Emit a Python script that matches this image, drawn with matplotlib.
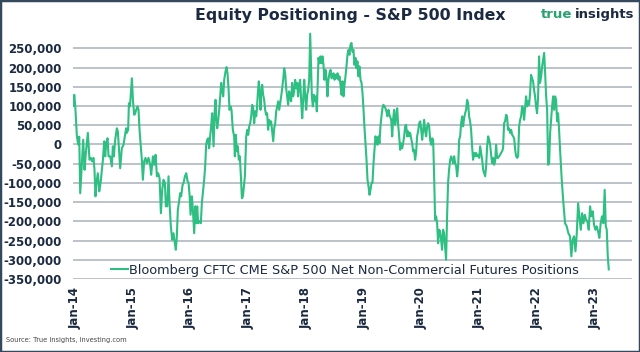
import numpy as np
import pandas as pd
import matplotlib
matplotlib.use('Agg')
import matplotlib.pyplot as plt
import matplotlib.dates as mdates
from matplotlib.ticker import FuncFormatter
from matplotlib.patches import Rectangle

# Weekly net positions (thousand contracts).
# week = weeks after 1 Jan 2014
weeks = [
    -1.3, -0.7, 0.2, 1.7, 2.9, 3.8, 4.7, 6.2, 7.4, 8.6, 9.8, 11.6, 13.1, 14.3, 15.5, 16.7,
    17.6, 18.5, 19.4, 20.6, 21.9, 23.1, 24.3, 25.2, 26.4, 27.3, 28.2, 29.4, 30.3, 31.8,
    33.3, 34.2, 35.1, 36.3, 37.8, 38.7, 40.8, 42.3, 43.8, 45.0, 46.2, 46.8, 48.0, 48.7,
    49.6, 50.5, 51.4, 52.3, 53.5, 54.4, 55.3, 56.5, 57.4, 58.3, 59.5, 60.4, 61.3, 62.5,
    63.7, 64.9, 66.4, 67.9, 68.8,
    70.4, 71.6, 72.8, 74.0, 75.2, 76.4, 77.6, 78.8, 80.0, 81.2, 82.1, 83.3, 84.5, 85.4,
    86.6, 87.8, 89.0, 90.2, 91.1, 92.0, 92.9, 93.8, 95.0, 95.9, 97.2, 98.1, 99.3, 100.5,
    101.7, 102.6, 103.5, 104.4, 105.6, 106.5, 107.7, 108.6, 109.5, 110.4, 111.3, 112.5,
    113.7, 114.6, 115.5, 116.7, 117.6, 118.5, 119.4, 120.3, 121.2, 122.1, 123.0, 123.9,
    124.6, 125.2, 126.1, 127.0, 127.6, 128.5, 129.4, 130.3, 131.2, 132.1, 133.0, 133.9,
    134.8, 136.0, 136.9, 137.8, 138.7, 139.6, 140.5, 141.4,
    142.6, 143.8, 144.4, 145.3, 146.2, 147.1, 148.0, 148.9, 149.9, 150.8, 151.7, 152.6,
    153.5, 154.1, 154.7, 155.6, 156.5, 157.4, 158.3, 159.2, 160.1, 161.0, 161.9, 162.8,
    163.7, 164.3, 165.2, 166.1, 167.0, 167.6, 168.2, 169.1, 170.0, 170.9, 171.8, 172.7,
    173.6, 174.5, 175.4, 176.3, 177.2, 178.2, 179.1, 180.0, 180.9, 181.8, 182.7, 183.6,
    184.5, 185.4, 186.3, 187.2, 188.1, 189.0, 189.9, 190.8, 191.7, 192.6, 193.5, 194.4,
    195.3, 196.2, 197.1, 198.0, 198.9, 199.8, 200.7, 201.6, 202.5, 203.4, 204.3, 205.3,
    206.2, 207.1, 208.0, 208.9, 209.8, 210.7, 211.6, 212.5,
    214.0, 214.9, 215.8, 216.7, 217.6, 218.5, 219.4, 220.0, 220.9, 221.8, 222.7, 223.6,
    224.5, 225.4, 226.3, 227.2, 228.1, 229.0, 229.9, 230.9, 231.8, 232.7, 233.6, 234.5,
    235.4, 236.3, 237.2, 238.1, 239.0, 239.9, 240.8, 241.7, 242.6, 243.5, 244.4, 245.3,
    246.2, 247.1, 248.0, 248.9, 249.8, 250.7, 251.6, 252.5, 253.4, 254.3, 255.2, 256.1,
    257.0, 258.0, 258.9, 259.8, 260.7, 261.6, 262.5, 263.4, 264.3, 265.2, 266.1, 267.0,
    267.9, 268.8, 269.7, 270.6, 271.5, 272.4, 273.3, 274.2, 275.1, 276.0, 276.9, 277.8,
    278.7, 279.6, 280.5, 281.4, 282.3, 283.2, 284.1,
    285.7, 286.6, 287.5, 288.4, 289.3, 290.2, 291.1, 292.0, 292.9, 293.8, 294.7, 295.6,
    296.5, 297.4, 298.3, 299.2, 300.1, 301.0, 301.9, 302.8, 303.7, 304.6, 305.5, 306.4,
    307.3, 308.2, 309.1, 310.0, 311.0, 311.9, 312.8, 313.7, 314.6, 315.5, 316.4, 317.3,
    318.2, 319.1, 320.0, 320.9, 321.8, 322.7, 323.6, 324.5, 325.4, 326.3, 327.2, 328.1,
    329.0, 329.9, 330.8, 331.7, 332.6, 333.5, 334.4, 335.3, 336.2, 337.1, 338.0, 339.0,
    339.9, 340.8, 341.7, 342.6, 343.5, 344.4, 345.3, 346.2, 347.1, 348.0, 348.9, 349.8,
    350.7, 351.6, 352.5, 353.4, 354.3, 355.2, 356.1, 357.0,
    357.9, 358.8, 359.7, 360.6, 361.5, 362.4, 363.4, 364.3, 365.2, 366.1, 367.0, 367.9,
    368.8, 369.7, 370.6, 371.5, 372.4, 373.3, 374.2, 375.1, 376.0, 376.9, 377.8, 378.7,
    379.6, 380.5, 381.4, 382.3, 383.2, 384.1, 385.0, 385.9, 386.8, 387.7, 388.6, 389.5,
    390.4, 391.3, 392.2, 393.2, 394.1, 395.0, 395.9, 396.8, 397.7, 398.6, 399.5, 400.4,
    401.3, 402.2, 403.1, 404.0, 404.9, 405.8, 406.7, 407.6, 408.5, 409.4, 410.3, 411.2,
    412.1, 413.0, 413.9, 414.8, 415.7, 416.6, 417.5, 418.4, 419.3, 420.2, 421.2, 422.1,
    423.0, 423.9, 424.8, 425.7, 426.6, 427.5, 428.4, 429.3, 430.2, 431.1, 432.0, 432.9,
    433.8, 434.7, 435.6, 436.5, 437.4, 438.3,
    439.8, 441.3, 442.8, 444.3, 445.8, 447.3, 448.5, 449.7, 450.9, 452.2, 453.4, 454.6,
    455.8, 457.0, 458.2, 459.4, 460.6, 461.8, 463.0, 464.2, 465.4, 466.6, 467.8, 469.0,
    470.2, 471.4, 472.6, 473.8, 475.0, 476.2, 477.4, 478.6, 479.6, 480.5, 481.4, 482.3,
]

net_k = [
    100, 129, 100, 21, 0, 20, -127, -49, 12, -66, -22, 30, -40, -35, -44, -35,
    -66, -135, -100, -75, -122, -100, -66, -40, 8, -31, 3, 16, -31, -31,
    -57, -5, -31, 12, 42, 34, -62, -10, -1, 21, 42, 30, 38, 107,
    99, 133, 172, 116, 77, 81, 90, 99, 90, 38, -5, -40, -92, -44,
    -35, -49, -35, -53, -79,
    -31, -53, -27, -83, -75, -88, -179, -118, -92, -100, -161, -161, -83, -153,
    -213, -248, -231, -257, -274, -239, -170, -153, -127, -135, -105, -100, -83, -75,
    -96, -100, -131, -183, -135, -170, -231, -161, -205, -161, -205, -200,
    -205, -153, -127, -92, -57, -1, 12, 16, -10, 21, 47, 81,
    38, -5, 81, 116, 68, 42, 64, 90, 125, 160, 138, 125,
    168, 190, 201, 185, 146, 90, 99, 90,
    38, 21, -31, 25, -18, -5, -40, -31, -83, -140, -135, -109,
    -83, -31, 21, 38, 25, 47, 55, 73, 103, 94, 55, 86,
    73, 90, 133, 164, 125, 90, 133, 155, 129, 116, 90, 77,
    81, 38, 64, 51, 60, 34, 8, 42, 55, 86, 99, 112,
    90, 107, 125, 146, 168, 198, 185, 146, 125, 103, 138, 120,
    112, 160, 125, 138, 168, 146, 160, 125, 155, 168, 116, 68,
    116, 168, 125, 90, 129, 142, 168, 288,
    125, 99, 129, 112, 125, 86, 168, 225, 211, 229, 211, 229,
    207, 168, 194, 172, 125, 168, 185, 194, 172, 177, 185, 168,
    181, 172, 185, 168, 177, 155, 129, 164, 125, 155, 177, 203,
    233, 246, 233, 259, 264, 241, 246, 207, 225, 198, 216, 177,
    203, 168, 160, 133, 90, 42, 3, -40, -92, -109, -131, -118,
    -100, -100, -49, -14, 21, 8, -1, 21, 3, 47, 73, 94,
    103, 99, 94, 86, 73, 90, 77,
    64, 21, 68, 90, 51, 68, 94, 51, 21, -14, 3, -10,
    3, 21, 47, 51, 21, 34, 21, 30, 16, 3, -18, -14,
    -40, -22, 21, 34, 55, 60, 38, 12, 38, 64, 34, 21,
    47, 55, 47, 12, -1, 16, 12, -83, -196, -187, -205, -257,
    -222, -226, -248, -274, -222, -231, -265, -300, -187, -100, -66, -40,
    -31, -40, -49, -31, -49, -57, -83, -57, 12, 21, 55, 73,
    47, 68, 81, 90, 116, 107, 73, 60,
    38, -5, -40, -22, -31, -22, -31, -27, -35, -5, -22, -40,
    -66, -75, -83, -57, -5, 21, 12, -1, -27, -49, -35, -53,
    -44, -1, -35, -35, -31, -27, -22, -18, -10, 55, 60, 77,
    73, 38, 42, 30, 38, 25, 21, 16, -14, -31, -35, -31,
    47, 64, 73, 99, 94, 64, 94, 125, 99, 112, 103, 133,
    181, 172, 164, 142, 125, 99, 81, 120, 229, 160, 177, 203,
    220, 238, 185, 125, 90, -53, -49, 30, 64, 99, 125, 90,
    125, 116, 60, 81, 38, -14,
    -92, -153, -205, -213, -231, -239, -291, -248, -239, -278, -231, -153,
    -187, -222, -179, -205, -183, -196, -200, -222, -161, -187, -174, -209,
    -222, -213, -226, -243, -205, -187, -205, -118, -213, -222, -291, -325,
]

series_label = 'Bloomberg CFTC CME S&P 500 Net Non-Commercial Futures Positions'
title = 'Equity Positioning - S&P 500 Index'
source = 'Source: True Insights, Investing.com'

navy = '#1b2a41'
green = '#2ebf82'

dates = pd.Timestamp('2014-01-01') + pd.to_timedelta(np.array(weeks) * 7, unit='D')
values = np.array(net_k) * 1000

fig = plt.figure(figsize=(6.4, 3.52), dpi=100)
ax = fig.add_axes([0.114, 0.2074, 0.873, 0.7046])

ax.plot(dates, values, color=green, lw=1.5, label=series_label)

ax.set_ylim(-350000, 295000)
ax.set_yticks(np.arange(-350000, 250001, 50000))
ax.yaxis.set_major_formatter(FuncFormatter(lambda v, p: f'{v:,.0f}'))
ax.set_xlim(pd.Timestamp('2013-12-19'), pd.Timestamp('2023-08-23'))
ax.xaxis.set_major_locator(mdates.YearLocator())
ax.xaxis.set_major_formatter(mdates.DateFormatter('%b-%y'))

ax.grid(axis='y', color='#aab2bb', lw=1.1)
ax.set_axisbelow(True)
for s in ax.spines.values():
    s.set_visible(False)
ax.tick_params(length=0, colors=navy)
ax.tick_params(axis='y', pad=8)
ax.tick_params(axis='x', pad=6)
for lab in ax.get_yticklabels():
    lab.set_fontweight('bold')
    lab.set_fontsize(8.5)
for lab in ax.get_xticklabels():
    lab.set_fontweight('bold')
    lab.set_fontsize(8.5)
    lab.set_rotation(90)

leg = ax.legend(loc='center', bbox_to_anchor=(0.487, 0.036), frameon=False,
                fontsize=9.3, handlelength=1.35, handletextpad=0.1)
for t in leg.get_texts():
    t.set_color(navy)

fig.text(0.547, 0.955, title, ha='center', va='center', fontsize=11.3,
         fontweight='bold', color=navy)
fig.text(572 / 640, 0.96, 'true', ha='right', va='center', fontsize=9.5,
         fontweight='bold', color='#27a36f')
fig.text(575 / 640, 0.96, 'insights', ha='left', va='center', fontsize=9.5,
         fontweight='bold', color=navy)
fig.text(6 / 640, 1 - 340 / 352, source, ha='left', va='center', fontsize=4.8,
         color='#444444')

fig.patches.append(Rectangle((0, 0), 1, 1, transform=fig.transFigure, fill=False,
                             edgecolor='#34495e', lw=2.5))

fig.savefig('out.png', dpi=100)
